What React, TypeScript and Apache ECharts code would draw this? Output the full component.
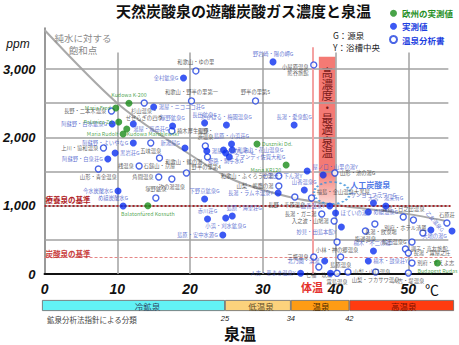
import React, { useEffect, useRef } from "react";
import * as echarts from "echarts";

const FONT = '"Noto Sans CJK JP", "Noto Sans", sans-serif';
const NUM_FONT = '"Liberation Sans", Arial, sans-serif';

// ---- 欧州の実測値 (green) ----
const euroTemp = [11.6, 9.8, 10.2, 11.3, 10.8, 14.2, 29.2, 33.2, 54.0];
const euroPpm = [2500, 2430, 2225, 2123, 2050, 1000, 1903, 1596, 161];
const euroName = ["Kudowa K-200", "Maria Fred", "Polanica Zd.", "Kudowa Marchlewski", "Maria Rudolf", "Balatonfüred Kossuth", "Duszniki Dd.", "Maria KR120", "Budapest Rudas"];
const euroLabelAt = ["t", "l", "l", "rb", "l", "b", "r", "lb", "b"];

// ---- 実測値 (blue filled) ----
const measTemp = [19.1, 31.4, 15.0, 9.3, 12.2, 17.6, 22.0, 25.0, 34.3, 12.2, 9.7, 8.7, 19.3, 22.3, 25.7, 24.6, 25.8, 24.9, 25.4, 22.0, 22.4, 24.9, 25.8, 24.5, 10.1, 10.8, 36.1, 38.3, 35.7, 32.1, 39.2, 40.0, 40.8, 38.5, 35.2, 39.3, 45.2, 46.9, 44.5, 45.2, 44.5, 53.1, 56.0];
const measPpm = [2869, 3104, 2445, 2196, 2196, 2167, 2211, 2181, 2181, 1918, 1771, 1684, 1845, 1801, 1903, 1815, 1815, 1771, 1713, 1098, 805, 820, 849, 571, 1215, 995, 1508, 1449, 1230, 1186, 995, 893, 688, 190, 10, 10, 1039, 995, 908, 337, 190, 644, 630];
const measName = ["金村鉱泉G", "野岩崎・陽の岬G", "湯屋・ニコニコ荘G", "阿蘇野・白水鉱泉G", "湯屋・嵐岳荘G", "塚野鉱泉G", "長田鉱泉G", "たかはる・梅園温泉G", "長湯・愛泉館G", "阿蘇野・よいやなG", "黒岩荘G", "阿蘇野・白泉荘G", "新湯屋G", "湯屋・ひめしゃら", "島原・小浜荘G", "", "和歌山・花山温泉G", "姫路・駒子水G", "アマンディ佐賀大和G", "下野京鉱泉G", "赤川荘G", "小浜・刈水鉱泉G", "島原・海望荘G", "島原・安中水源G", "今水炭酸水G", "め組炭酸水G", "七里田・下ん湯Y", "屋ノ口・山里の湯Y", "山香温泉G", "長湯・ラムネ温泉Y", "山香温泉Y", "ほていの湯G", "妙見・田島本館Y", "北乃園・浜湯", "人吉・華まき温泉Y", "", "サンヨーフラワーG", "大宮・湯来有G", "め組温泉G", "楠木・不二の湯Y", "楠木・鼓泉荘Y", "乙女温泉G", "大地の湯G"];
const measLabelAt = ["l", "t", "r", "l", "rb", "t", "t", "t", "t", "l", "r", "l", "lt", "r", "t", "", "r", "b", "r", "t", "t", "b", "tr", "l", "l", "tl", "lb", "tr", "t", "l", "l", "r", "lb", "l", "l", "", "t", "t", "r", "t", "r", "rot", "lb"];

// ---- 温泉分析書 (blue hollow) ----
const repTemp = [20.8, 20.2, 29.0, 37.0, 9.2, 13.7, 17.5, 14.6, 8.1, 15.8, 7.4, 13.0, 15.7, 17.5, 19.5, 22.1, 22.4, 32.2, 32.2, 34.4, 36.7, 39.9, 38.1, 39.8, 40.2, 37.0, 37.7, 40.7, 40.2, 41.7, 45.5, 44.1, 45.4, 49.3, 50.7, 52.0, 55.3, 50.5, 49.6, 50.0, 50.5, 50.0, 15.3];
const repPpm = [2972, 2533, 2533, 3060, 2386, 2503, 2094, 1918, 1845, 1698, 1537, 1581, 1420, 1391, 1479, 1874, 1713, 1435, 1288, 1127, 1113, 1479, 878, 776, 468, 249, 102, 249, 10, 29, 29, 630, 732, 834, 791, 600, 747, 468, 366, 307, 161, 15, 1113];
const repName = ["和歌山・ゆの里", "和歌山・野半の里第一", "野半の里第5", "小屋原温泉\n熊谷旅館", "長野・二本木温泉", "杉山温泉・\nせせらぎの四季", "楠木厚生温泉", "五味温泉", "上川・協和温泉", "石鎚山・京屋", "山形・青金温泉", "桟温泉", "角間温泉", "汐の湯温泉", "野半の里第4", "長野・\n渋温泉", "和歌山・鶴の湯", "和歌山・ふくろうの湯", "山梨・嶋鷹の湯", "長野・千原温泉", "福島・金山温泉大黒屋", "山形・池の湯G", "長湯・ガニ湯", "入之波・山鳩湯", "小林・神の郷温泉", "三瓶温泉", "七福・玖珠", "島原温泉", "霧島温泉", "山梨・山口温泉", "山梨・フカサワ温泉", "塩浸温泉", "長湯・飲泉場", "霧島・日之出温泉", "別府・ホテル清風", "", "石原荘", "鶴王温泉G", "調子・高友旅館", "長湯・霧屋之庄", "別府・すえよ志", "人吉・堤温泉", "塚野鉱泉"];
const repLabelAt = ["t", "t", "t", "lb", "l", "b", "r", "b", "l", "b", "b", "l", "l", "b", "rt", "t", "lb", "l", "l", "bl", "rt", "r", "l", "l", "b", "l", "b", "b", "b", "r", "b", "b", "br", "t", "bl", "", "t", "l", "r", "r", "r", "b", "t"];

// ---- 純水に対する飽和点 ----
const satTemp = [0, 10, 18.2, 25.7, 33.5, 40, 49.8, 55];
const satPpm = [3570, 2500, 1875, 1390, 1130, 1010, 880, 780];

// ---- 人工炭酸泉 ----
const artTemp = [39.5];
const artPpm = [1186];

// ---- reference values ----
const therapeuticPpm = 1000; // 療養泉の基準
const carbonatedPpm = 250; // 炭酸泉の基準
const bodyTemp = 36.9; // 体温
const optimalTemp = [37.7, 40]; // 高濃度・最適泉温
const optimalPpm = [1000, 3180];

// ---- grid ----
const gridX = [10, 20, 30, 40, 50];
const gridY = [500, 1000, 1500, 2000, 2500, 3000];

// ---- 鉱泉分析法指針による分類 ----
const classNames = ["冷鉱泉", "低温泉", "温泉", "高温泉"];
const classBreaks = [25, 34, 42];
const classEnd = 56.3;

const PLACE: Record<string, { position: string; offset: number[]; rotate?: number }> = {
  t: { position: "top", offset: [0, 0] },
  b: { position: "bottom", offset: [0, 0] },
  l: { position: "left", offset: [0, 0] },
  r: { position: "right", offset: [0, 0] },
  rb: { position: "right", offset: [-5, 5] },
  lb: { position: "left", offset: [0, 5] },
  lt: { position: "left", offset: [0, -5] },
  rt: { position: "right", offset: [0, -6] },
  tl: { position: "top", offset: [-10, 0] },
  tr: { position: "top", offset: [12, 0] },
  bl: { position: "bottom", offset: [-8, 0] },
  br: { position: "bottom", offset: [6, 0] },
  rot: { position: "top", offset: [0, -2], rotate: -50 },
};

function points(temps: number[], ppms: number[], names: string[], at: string[]) {
  return temps.map((t, i) => {
    const p = PLACE[at[i]] || PLACE.t;
    return {
      value: [t, ppms[i]],
      name: names[i],
      label: {
        show: names[i] !== "",
        position: p.position,
        offset: p.offset,
        rotate: p.rotate || 0,
      },
    };
  });
}

function txt(x: number, y: number, text: string, font: string, fill: string, align = "center", lineHeight?: number) {
  return {
    type: "text",
    x,
    y,
    silent: true,
    z: 20,
    style: {
      text,
      font,
      fill,
      textAlign: align,
      textVerticalAlign: "middle",
      align,
      verticalAlign: "middle",
      lineHeight,
    },
  };
}

export default function App() {
  const ref = useRef<HTMLDivElement>(null);
  useEffect(() => {
    if (!ref.current) return;
    const chart = echarts.init(ref.current, undefined, { renderer: "svg" });

    const gridLineData: any[] = [];
    gridY.forEach((v) => gridLineData.push([{ coord: [0, v] }, { coord: [55.5, v] }]));
    gridX.forEach((v) => gridLineData.push([{ coord: [v, 0] }, { coord: [v, 3240] }]));

    const classWidths = classNames.map((_, i) => {
      const lo = i === 0 ? 0 : classBreaks[i - 1];
      const hi = i < classBreaks.length ? classBreaks[i] : classEnd;
      return +(hi - lo).toFixed(2);
    });
    const classColors = ["#62f2f5", "#fcd27c", "#ff9c14", "#ff3b10"];
    const classText = ["#2f4a66", "#5a4a2a", "#4a2a00", "#7a1000"];
    const classOffset = [[14, 0], [3, 0], [1, 0], [2, 0]];

    const labelBase = { fontSize: 5.3, fontFamily: FONT, distance: 1.5, formatter: "{b}", lineHeight: 6.5 };

    const option: any = {
      animation: false,
      title: {
        text: "天然炭酸泉の遊離炭酸ガス濃度と泉温",
        left: 116,
        top: 3,
        padding: 0,
        textStyle: { fontSize: 15, fontWeight: "bold", color: "#111", fontFamily: FONT },
      },
      legend: {
        orient: "vertical",
        left: 389,
        top: 9,
        padding: 0,
        itemWidth: 7,
        itemHeight: 7,
        itemGap: 4.5,
        textStyle: { fontSize: 8.5, fontWeight: "bold", fontFamily: FONT },
        data: [
          { name: "欧州の実測値", icon: "circle", textStyle: { color: "#1f8f1f" } },
          { name: "実測値", icon: "circle", textStyle: { color: "#1d3fe0" } },
          { name: "温泉分析書", icon: "circle", textStyle: { color: "#1d3fe0" } },
        ],
      },
      grid: [
        { left: 42, right: 7, top: 28, bottom: 71 },
        { left: 42, right: 5, top: 300, height: 11 },
      ],
      xAxis: [
        {
          type: "value",
          min: 0,
          max: 56,
          interval: 10,
          axisLine: { show: true, onZero: false, lineStyle: { color: "#111", width: 2 } },
          axisTick: { show: false },
          splitLine: { show: false },
          axisLabel: {
            formatter: (v: number) => (v % 10 === 0 ? String(v) : ""),
            fontSize: 14,
            fontWeight: "bold",
            fontStyle: "italic",
            color: "#111",
            margin: 8,
            fontFamily: NUM_FONT,
          },
        },
        {
          type: "value",
          gridIndex: 1,
          min: 0,
          max: classEnd,
          axisLine: { show: false },
          axisTick: { show: false },
          splitLine: { show: false },
          axisLabel: {
            customValues: classBreaks,
            fontSize: 7.5,
            fontStyle: "italic",
            color: "#222",
            margin: 3,
            fontFamily: NUM_FONT,
          },
        },
      ],
      yAxis: [
        {
          type: "value",
          min: 0,
          max: 3600,
          interval: 500,
          axisLine: { show: true, lineStyle: { color: "#777", width: 1.5 } },
          axisTick: { show: false },
          splitLine: { show: false },
          axisLabel: {
            formatter: (v: number) => (v % 1000 === 0 ? v.toLocaleString("en-US") : ""),
            fontSize: 13,
            fontWeight: "bold",
            fontStyle: "italic",
            color: "#111",
            margin: 9,
            fontFamily: NUM_FONT,
          },
        },
        { type: "category", gridIndex: 1, data: [""], show: false },
      ],
      graphic: [
        txt(18, 44, "ppm", 'italic 12px "Liberation Sans"', "#111"),
        txt(432, 289, "℃", '14px "Noto Sans CJK JP"', "#111"),
        txt(312, 287, "体温", 'bold 11px "Noto Sans CJK JP"', "#e4302a"),
        txt(240, 333, "泉温", 'bold 16px "Noto Sans CJK JP"', "#111"),
        txt(47, 319, "鉱泉分析法指針による分類", '7.5px "Noto Sans CJK JP"', "#444", "left"),
        txt(83, 44, "純水に対する\n飽和点", '9.5px "Noto Sans CJK JP"', "#8a8a8a", "center", 12),
        txt(333, 35, "G：源泉", '8.5px "Noto Sans CJK JP"', "#222", "left"),
        txt(333, 47, "Y：浴槽中央", '8.5px "Noto Sans CJK JP"', "#222", "left"),
      ],
      series: [
        {
          name: "grid",
          type: "line",
          data: [],
          z: 1,
          silent: true,
          markLine: {
            silent: true,
            symbol: ["none", "none"],
            label: { show: false },
            lineStyle: { color: "#a2a2a2", width: 1.5, type: "solid" },
            data: gridLineData,
          },
        },
        {
          name: "band",
          type: "line",
          data: [],
          z: 2,
          silent: true,
          markArea: {
            silent: true,
            itemStyle: {
              color: new echarts.graphic.LinearGradient(0, 0, 0, 1, [
                { offset: 0, color: "#f47a74" },
                { offset: 0.76, color: "#f47a74" },
                { offset: 1, color: "#fcdcd8" },
              ]),
            },
            label: {
              show: true,
              position: "insideTop",
              distance: 10,
              formatter: "高\n濃\n度\n・\n最\n適\n泉\n温",
              fontSize: 11.5,
              lineHeight: 11.4,
              color: "#7a1a1a",
              fontFamily: FONT,
            },
            data: [[{ coord: [optimalTemp[0], optimalPpm[1]] }, { coord: [optimalTemp[1], optimalPpm[0]] }]],
          },
        },
        {
          name: "refs",
          type: "line",
          data: [],
          z: 3,
          silent: true,
          markLine: {
            silent: true,
            symbol: ["none", "none"],
            data: [
              {
                yAxis: therapeuticPpm,
                lineStyle: { color: "#a8262a", type: "dotted", width: 2 },
                label: {
                  show: true,
                  position: "insideStartTop",
                  formatter: "療養泉の基準",
                  color: "#b02428",
                  fontSize: 7.5,
                  fontWeight: "bold",
                  fontFamily: FONT,
                  distance: [1, 2],
                },
              },
              {
                yAxis: carbonatedPpm,
                lineStyle: { color: "#e58585", type: [3, 2], width: 1 },
                label: {
                  show: true,
                  position: "insideStartTop",
                  formatter: "炭酸泉の基準",
                  color: "#c83c3c",
                  fontSize: 7.5,
                  fontWeight: "bold",
                  fontFamily: FONT,
                  distance: [1, 0],
                },
              },
              [
                { coord: [bodyTemp, 0], lineStyle: { color: "#f4a2a2", width: 2, type: "solid" }, label: { show: false } },
                { coord: [bodyTemp, 3320] },
              ],
            ],
          },
        },
        {
          name: "純水に対する飽和点",
          type: "line",
          data: satTemp.map((t, i) => [t, satPpm[i]]),
          smooth: 0.3,
          symbol: "none",
          z: 4,
          silent: true,
          lineStyle: { color: "#a9a9a9", width: 2 },
        },
        {
          name: "人工炭酸泉",
          type: "scatter",
          z: 5,
          silent: true,
          data: artTemp.map((t, i) => ({ value: [t, artPpm[i]], name: "人工炭酸泉" })),
          symbol: "circle",
          symbolSize: [36, 22],
          itemStyle: { color: "rgba(0,0,0,0)", borderColor: "#3a90da", borderWidth: 2, borderType: "dotted" },
          label: {
            show: true,
            position: "right",
            offset: [-6, -8],
            formatter: "{b}",
            color: "#2255e0",
            fontSize: 8,
            fontWeight: "bold",
            fontFamily: FONT,
          },
        },
        {
          name: "温泉分析書",
          type: "scatter",
          z: 6,
          symbol: "circle",
          symbolSize: 6,
          itemStyle: { color: "#ffffff", borderColor: "#1d3fe0", borderWidth: 1.4 },
          label: { ...labelBase, color: "#333" },
          data: points(repTemp, repPpm, repName, repLabelAt),
        },
        {
          name: "実測値",
          type: "scatter",
          z: 7,
          symbol: "circle",
          symbolSize: 7,
          itemStyle: { color: "#0b2ff0" },
          label: { ...labelBase, color: "#3b52c8" },
          data: points(measTemp, measPpm, measName, measLabelAt),
        },
        {
          name: "欧州の実測値",
          type: "scatter",
          z: 8,
          symbol: "circle",
          symbolSize: 7,
          itemStyle: { color: "#1a8c1a" },
          label: { ...labelBase, color: "#1f8f1f" },
          data: points(euroTemp, euroPpm, euroName, euroLabelAt),
        },
        ...classNames.map((n, i) => ({
          name: n,
          type: "bar",
          stack: "class",
          xAxisIndex: 1,
          yAxisIndex: 1,
          barWidth: "100%",
          silent: true,
          data: [classWidths[i]],
          itemStyle: { color: classColors[i], borderColor: "#666", borderWidth: 0.8 },
          label: {
            show: true,
            position: "inside",
            formatter: n,
            offset: classOffset[i],
            fontSize: 8.5,
            color: classText[i],
            fontFamily: FONT,
          },
        })),
      ],
    };

    chart.setOption(option);
    return () => chart.dispose();
  }, []);

  return <div ref={ref} style={{ position: "absolute", left: 0, top: 0, width: 459, height: 345 }} />;
}
